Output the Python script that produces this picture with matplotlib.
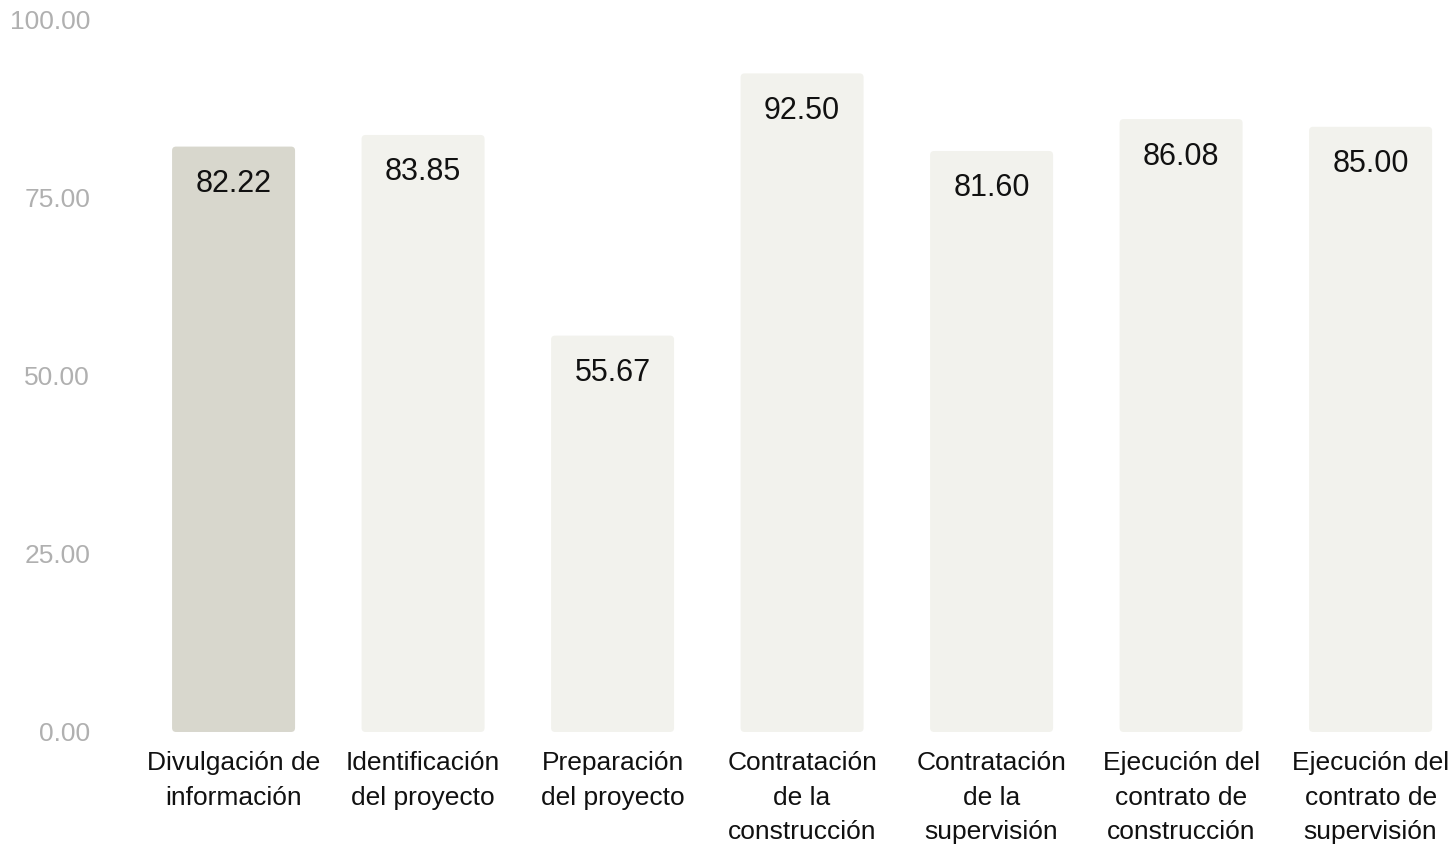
import matplotlib.pyplot as plt
from matplotlib.patches import FancyBboxPatch

plt.rcParams["font.family"] = ["Liberation Sans", "DejaVu Sans"]

categories = [
    "Divulgación de\ninformación",
    "Identificación\ndel proyecto",
    "Preparación\ndel proyecto",
    "Contratación\nde la\nconstrucción",
    "Contratación\nde la\nsupervisión",
    "Ejecución del\ncontrato de\nconstrucción",
    "Ejecución del\ncontrato de\nsupervisión",
]
values = [82.22, 83.85, 55.67, 92.50, 81.60, 86.08, 85.00]
yticks = [0, 25, 50, 75, 100]

colors = ["#d8d7cd"] + ["#f2f2ed"] * (len(values) - 1)

fig = plt.figure(figsize=(14.52, 8.47), dpi=100)
ax = fig.add_axes([0.0956, 0.1358, 0.9136, 0.8406])

x = list(range(len(values)))
bars = ax.bar(x, values, width=0.649, color=colors)

# swap plain bars for slightly rounded ones
px_x = 189.5
px_y = 7.12
for b in bars:
    x0, y0 = b.get_x(), b.get_y()
    w, h = b.get_width(), b.get_height()
    r = 4 / px_x
    p = FancyBboxPatch((x0, y0), w, h,
                       boxstyle=f"round,pad=0,rounding_size={r}",
                       mutation_aspect=px_x / px_y,
                       facecolor=b.get_facecolor(), edgecolor="none")
    b.set_visible(False)
    ax.add_patch(p)

for xi, v in zip(x, values):
    ax.annotate(f"{v:.2f}", (xi, v), xytext=(0, -27), textcoords="offset points",
                ha="center", va="center", fontsize=22, color="#111111")

ax.set_xlim(-0.5, len(values) - 0.5)
ax.set_ylim(0, 100)
ax.set_yticks(yticks)
ax.set_yticklabels([f"{t:.2f}" for t in yticks], fontsize=19, color="#b0b0b0")
ax.set_xticks(x)
ax.set_xticklabels(categories, fontsize=19, color="#111111", linespacing=1.55)
ax.tick_params(axis="y", length=0, pad=35)
ax.tick_params(axis="x", length=0, pad=14)
for s in ax.spines.values():
    s.set_visible(False)

plt.savefig("out.png", dpi=100)
